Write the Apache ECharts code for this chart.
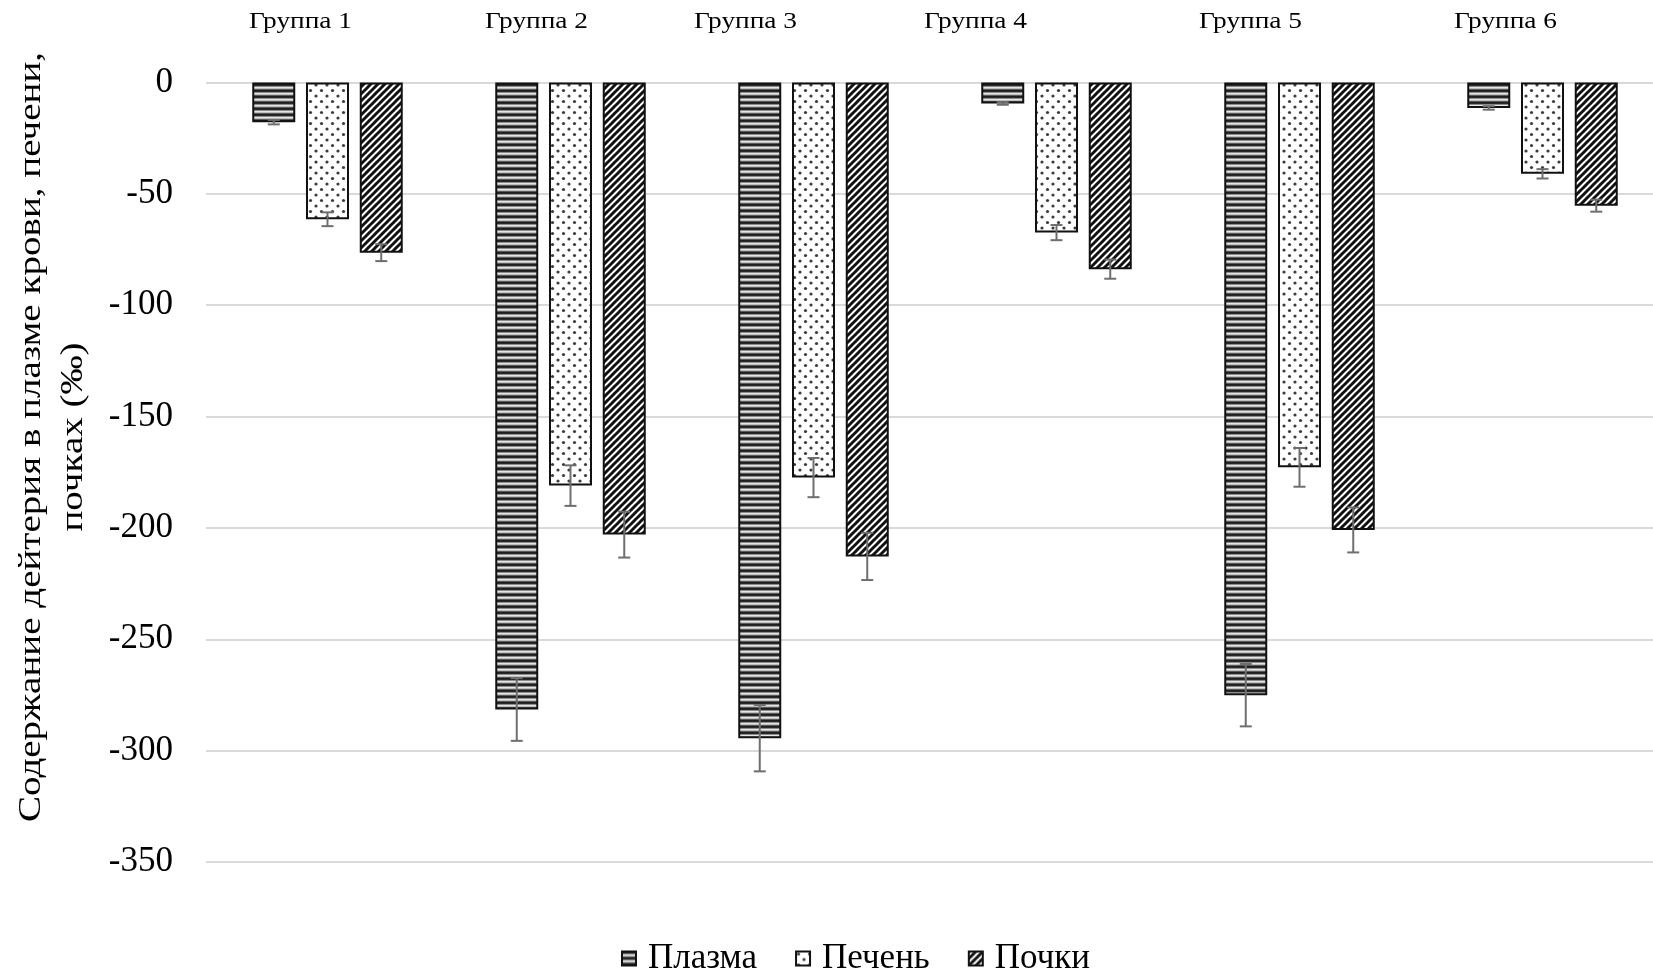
<!DOCTYPE html>
<html>
<head>
<meta charset="utf-8">
<script src="https://cdn.jsdelivr.net/npm/echarts@6/dist/echarts.min.js"></script>
<style>
  html, body { margin: 0; padding: 0; background: #fff; }
  #chart { width: 1653px; height: 971px; }
</style>
</head>
<body>
<div id="chart"></div>
<script>
// Deuterium content per group, ‰ (mean and error)
const groups = ['Группа 1', 'Группа 2', 'Группа 3', 'Группа 4', 'Группа 5', 'Группа 6'];
const seriesNames = ['Плазма', 'Печень', 'Почки'];
const plasma = [-17.8, -281.5, -294.4, -9.4, -275.1, -11.4];
const liver = [-61.4, -181.0, -177.4, -67.4, -172.8, -41.0];
const kidney = [-76.4, -203.0, -212.8, -83.8, -200.9, -55.3];
const plasmaErr = [1.0, 14.1, 14.9, 0.6, 14.0, 0.8];
const liverErr = [3.1, 9.1, 8.8, 3.4, 8.7, 2.1];
const kidneyErr = [3.8, 10.3, 10.6, 4.3, 10.1, 2.7];
const yTitle = 'Содержание дейтерия в плазме крови, печени,\nпочках (‰)';

// Layout constants
const FONT = "'Liberation Serif', 'Times New Roman', serif";
const BAR_W = 43;
const BAR_GAP = 0.25;
const groupLabelShift = [-27, -34, -68, -81, -49, -37];

// Fill patterns drawn on small canvases
function makeCanvas(w, h, draw) {
  const c = document.createElement('canvas');
  c.width = w; c.height = h;
  draw(c.getContext('2d'), w, h);
  return c;
}
const stripePattern = makeCanvas(4, 6, (g, w) => {
  const rows = ['#1e1e1e', '#2a2a2a', '#8a8a8a', '#e6e6e6', '#bdbdbd', '#5a5a5a'];
  rows.forEach((col, i) => { g.fillStyle = col; g.fillRect(0, i, w, 1); });
});
const dotPattern = makeCanvas(11, 11, (g, w, h) => {
  g.fillStyle = '#fff'; g.fillRect(0, 0, w, h);
  g.fillStyle = '#3c3c3c';
  [[2.5, 2.5], [8, 8]].forEach(([x, y]) => { g.beginPath(); g.arc(x, y, 1.6, 0, Math.PI * 2); g.fill(); });
});
const diagPattern = makeCanvas(7, 7, (g, w, h) => {
  g.fillStyle = '#fff'; g.fillRect(0, 0, w, h);
  g.strokeStyle = '#111'; g.lineWidth = 3;
  for (let k = -1; k <= 1; k++) {
    g.beginPath();
    g.moveTo(k * w - 1, h + 1);
    g.lineTo(k * w + w + 1, -1);
    g.stroke();
  }
});
const fills = [stripePattern, dotPattern, diagPattern];
const values = [plasma, liver, kidney];
const errors = [plasmaErr, liverErr, kidneyErr];

const chart = echarts.init(document.getElementById('chart'), null, { renderer: 'canvas' });

const barSeries = seriesNames.map((name, s) => ({
  name: name,
  type: 'bar',
  data: values[s],
  barWidth: BAR_W,
  barGap: (BAR_GAP * 100) + '%',
  itemStyle: {
    color: { image: fills[s], repeat: 'repeat' },
    borderColor: '#111',
    borderWidth: 2
  },
  emphasis: { disabled: true },
  z: 2
}));

const errSeries = seriesNames.map((name, s) => ({
  name: name + ' err',
  type: 'custom',
  z: 5,
  silent: true,
  data: values[s].map((v, i) => [i, v, errors[s][i]]),
  renderItem: function (params, api) {
    const idx = api.value(0), v = api.value(1), e = api.value(2);
    const off = (s - 1) * BAR_W * (1 + BAR_GAP);
    const x = api.coord([idx, v])[0] + off;
    const y1 = api.coord([idx, v + e])[1];
    const y2 = api.coord([idx, v - e])[1];
    const st = { stroke: '#6e6e6e', lineWidth: 2 };
    const cap = 6;
    return {
      type: 'group',
      children: [
        { type: 'line', shape: { x1: x, y1: y1, x2: x, y2: y2 }, style: st },
        { type: 'line', shape: { x1: x - cap, y1: y1, x2: x + cap, y2: y1 }, style: st },
        { type: 'line', shape: { x1: x - cap, y1: y2, x2: x + cap, y2: y2 }, style: st }
      ]
    };
  }
}));

const option = {
  animation: false,
  backgroundColor: '#fff',
  grid: { left: 206, width: 1458, top: 82.5, bottom: 109, outerBoundsMode: 'none', containLabel: false },
  xAxis: {
    type: 'category',
    data: groups,
    axisLine: { show: false },
    axisTick: { show: false },
    axisLabel: { show: false },
    splitLine: { show: false }
  },
  yAxis: {
    type: 'value',
    min: -350,
    max: 0,
    interval: 50,
    axisLine: { show: false },
    axisTick: { show: false },
    axisLabel: { fontFamily: FONT, fontSize: 35, color: '#000', margin: 33 },
    splitLine: { lineStyle: { color: '#d9d9d9', width: 2 } }
  },
  legend: {
    data: seriesNames,
    left: 616,
    top: 936,
    itemWidth: 14,
    itemHeight: 14,
    itemGap: 38,
    icon: 'rect',
    textStyle: { fontFamily: FONT, fontSize: 35, color: '#000', padding: [0, 0, 0, 7] }
  },
  series: barSeries.concat(errSeries)
};
chart.setOption(option);

// Group titles above the plot and the rotated value-axis title
const titleItems = groups.map((g, i) => ({
  type: 'text',
  x: chart.convertToPixel({ xAxisIndex: 0 }, i) + groupLabelShift[i],
  y: 22,
  scaleX: 1.14,
  style: { text: g, font: '24px ' + FONT, fill: '#000', align: 'center', verticalAlign: 'middle' }
}));
titleItems.push({
  type: 'text',
  x: 53,
  y: 437,
  rotation: Math.PI / 2,
  scaleX: 1.22,
  style: {
    text: yTitle, font: '32px ' + FONT, fill: '#000',
    align: 'center', verticalAlign: 'middle', lineHeight: 42
  }
});
chart.setOption({ graphic: titleItems });
</script>
</body>
</html>
